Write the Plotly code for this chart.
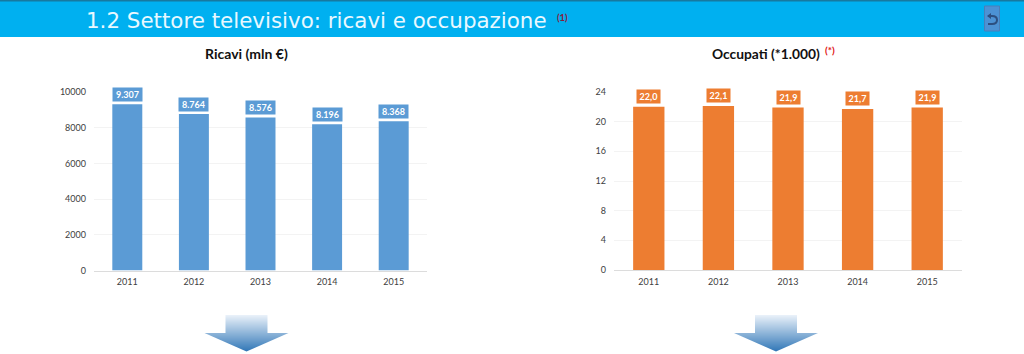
import plotly.graph_objects as go

years = ["2011", "2012", "2013", "2014", "2015"]
ricavi = [9307, 8764, 8576, 8196, 8368]
ricavi_labels = ["9.307", "8.764", "8.576", "8.196", "8.368"]
occupati = [22.0, 22.1, 21.9, 21.7, 21.9]
occupati_labels = ["22,0", "22,1", "21,9", "21,7", "21,9"]
ricavi_ticks = [0, 2000, 4000, 6000, 8000, 10000]
occupati_ticks = [0, 4, 8, 12, 16, 20, 24]

W, H = 1024, 354
BLUE, ORANGE = "#5b9bd5", "#ed7d31"
FONT = "Lato"


def px(x):
    return x / W


def py(y):
    return 1 - y / H


fig = go.Figure()
fig.add_trace(go.Bar(x=years, y=ricavi, width=0.45, marker=dict(color=BLUE), xaxis="x", yaxis="y", showlegend=False))
fig.add_trace(go.Bar(x=years, y=occupati, width=0.45, marker=dict(color=ORANGE), xaxis="x2", yaxis="y2", showlegend=False))

axis_x = dict(type="category", automargin=False, showgrid=False, showline=True, linecolor="#dcdcdc", linewidth=1,
              ticks="", ticklabelstandoff=3, tickfont=dict(family=FONT, size=9, color="#404040"))
axis_y = dict(automargin=False, showgrid=True, gridcolor="#f3f3f3", gridwidth=1, zeroline=False, showline=False,
              ticks="", ticklabelstandoff=7, tickfont=dict(family=FONT, size=9, color="#404040"), tickformat="d")

shapes = [
    dict(type="rect", xref="paper", yref="paper", x0=0, x1=1, y0=py(37), y1=py(0),
         fillcolor="#00b0f0", line_width=0, layer="below"),
    dict(type="rect", xref="paper", yref="paper", x0=0, x1=1, y0=py(1.5), y1=py(0),
         fillcolor="#17799f", line_width=0, layer="below"),
    dict(type="rect", xref="paper", yref="paper", x0=px(984.5), x1=px(999.5), y0=py(31), y1=py(6),
         fillcolor="#4c92d4", line=dict(color="#4a7fb8", width=1)),
    dict(type="path", xref="paper", yref="paper",
         path="M %f %f L %f %f Q %f %f %f %f Q %f %f %f %f L %f %f" % (
             px(988), py(16), px(992), py(16), px(997), py(16), px(997), py(20),
             px(997), py(24), px(992), py(24), px(988), py(24)),
         line=dict(color="#2c4f80", width=2)),
    dict(type="path", xref="paper", yref="paper",
         path="M %f %f L %f %f L %f %f Z" % (px(987), py(16), px(991), py(13), px(991), py(19)),
         fillcolor="#2c4f80", line_width=0),
]


def mix(t):
    a, b = (232, 240, 249), (46, 117, 182)
    return "rgb(%d,%d,%d)" % tuple(round(a[i] + (b[i] - a[i]) * t) for i in range(3))


def arrow(cx):
    top, neck, tip = 315, 333, 351.5
    y = top
    step = 1.0
    while y < tip:
        y2 = min(y + step, tip)
        col = mix((y - top) / (tip - top))
        if y < neck:
            a1 = a2 = 21
        else:
            a1 = 42 * (tip - y) / (tip - neck)
            a2 = 42 * (tip - y2) / (tip - neck)
        path = "M %f %f L %f %f L %f %f L %f %f Z" % (
            px(cx - a1), py(y), px(cx + a1), py(y), px(cx + a2), py(y2), px(cx - a2), py(y2))
        shapes.append(dict(type="path", xref="paper", yref="paper", path=path, fillcolor=col, line_width=0))
        y = y2


arrow(246.5)
arrow(776)

annotations = [
    dict(text="1.2 Settore televisivo: ricavi e occupazione", xref="paper", yref="paper", x=px(83.5), y=py(21),
         xanchor="left", yanchor="middle", showarrow=False,
         font=dict(family="DejaVu Sans", size=21.4, color="#e8f8ff")),
    dict(text="<b>(1)</b>", xref="paper", yref="paper", x=px(554.5), y=py(18), xanchor="left", yanchor="middle",
         showarrow=False, font=dict(family=FONT, size=9.5, color="#8b1a3a")),
    dict(text="<b>Ricavi (mln €)</b>", xref="paper", yref="paper", x=px(246.5), y=py(53), xanchor="center",
         yanchor="middle", showarrow=False, font=dict(family=FONT, size=14, color="#111111")),
    dict(text="<b>Occupati (*1.000)</b>", xref="paper", yref="paper", x=px(766), y=py(53), xanchor="center",
         yanchor="middle", showarrow=False, font=dict(family=FONT, size=13.8, color="#111111")),
    dict(text="<b>(*)</b>", xref="paper", yref="paper", x=px(830), y=py(50), xanchor="center", yanchor="middle",
         showarrow=False, font=dict(family=FONT, size=10, color="#e01010")),
]

for i, (yv, t) in enumerate(zip(ricavi, ricavi_labels)):
    annotations.append(dict(x=i, y=yv, xref="x", yref="y", text="<b>%s</b>" % t, showarrow=False,
                            yanchor="bottom", yshift=2, width=27, height=11, borderpad=1, bgcolor=BLUE,
                            font=dict(family=FONT, size=9, color="white")))
for i, (yv, t) in enumerate(zip(occupati, occupati_labels)):
    annotations.append(dict(x=i, y=yv, xref="x2", yref="y2", text="<b>%s</b>" % t, showarrow=False,
                            yanchor="bottom", yshift=3, width=21, height=11, borderpad=1, bgcolor=ORANGE,
                            font=dict(family=FONT, size=9, color="white")))

fig.update_layout(
    template="none",
    width=W, height=H, margin=dict(l=0, r=0, t=0, b=0, autoexpand=False), paper_bgcolor="white", plot_bgcolor="white",
    xaxis=dict(domain=[px(94), px(427)], anchor="y", range=[-0.5, 4.5], **axis_x),
    yaxis=dict(domain=[py(270.5), py(92)], anchor="x", range=[0, 10000], tickvals=ricavi_ticks, **axis_y),
    xaxis2=dict(domain=[px(614), px(962)], anchor="y2", range=[-0.5, 4.5], **axis_x),
    yaxis2=dict(domain=[py(270), py(92)], anchor="x2", range=[0, 24], tickvals=occupati_ticks, **axis_y),
    shapes=shapes, annotations=annotations,
)

fig.write_html("out.html", config={"displayModeBar": False},
               post_script="document.body.style.margin='0';document.body.style.overflow='hidden';")
